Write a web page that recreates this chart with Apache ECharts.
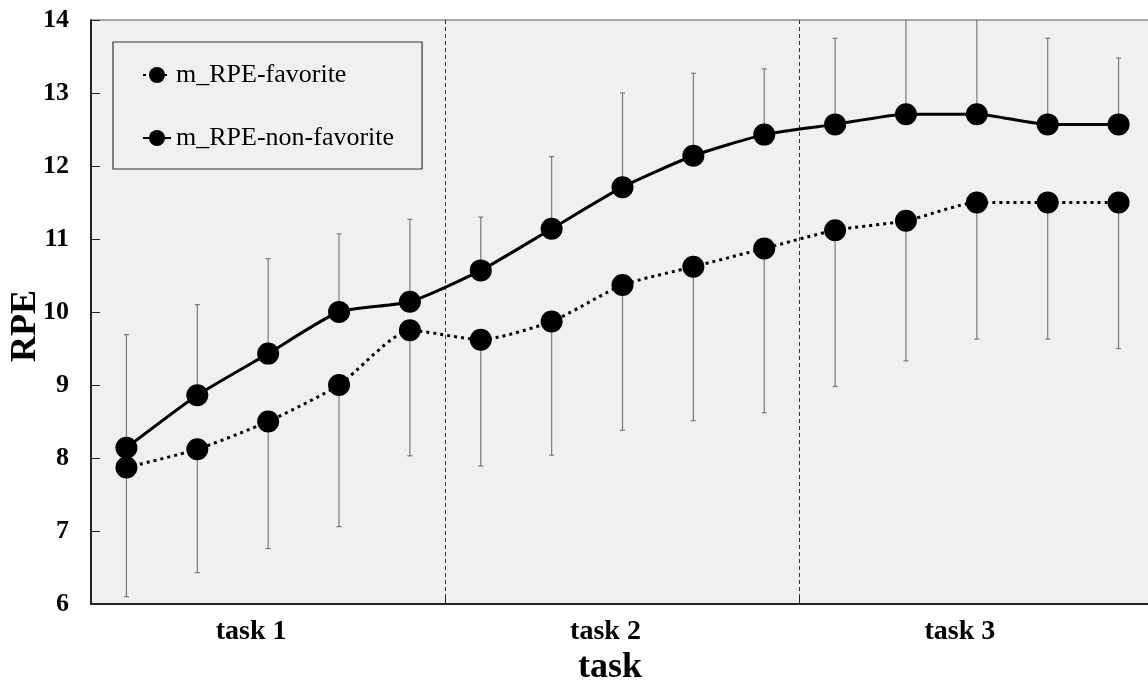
<!DOCTYPE html>
<html>
<head>
<meta charset="utf-8">
<script src="https://cdn.jsdelivr.net/npm/echarts@6/dist/echarts.min.js"></script>
<style>
  html, body { margin: 0; padding: 0; background: #ffffff; }
  #chart { width: 1148px; height: 686px; }
</style>
</head>
<body>
<div id="chart"></div>
<script>
// Task groups on the x axis (5 measurements per task)
const taskLabels = ['task 1', 'task 2', 'task 3'];
const pointsPerTask = 5;

// Mean RPE per measurement
const rpeFavorite    = [7.87, 8.12, 8.50, 9.00, 9.75, 9.62, 9.87, 10.37, 10.62, 10.87, 11.12, 11.25, 11.50, 11.50, 11.50];
const rpeNonFavorite = [8.14, 8.86, 9.43, 10.00, 10.14, 10.57, 11.14, 11.71, 12.14, 12.43, 12.57, 12.71, 12.71, 12.57, 12.57];

// Error bar ends: non-favorite bars extend upward, favorite bars extend downward
const nonFavoriteUpper = [9.69, 10.10, 10.73, 11.07, 11.27, 11.30, 12.13, 13.00, 13.27, 13.33, 13.75, 14.10, 14.10, 13.75, 13.48];
const favoriteLower    = [6.10, 6.43, 6.76, 7.06, 8.03, 7.89, 8.04, 8.38, 8.51, 8.62, 8.98, 9.33, 9.63, 9.63, 9.50];

// Y axis range
const yMin = 6, yMax = 14, yStep = 1;

const serif = "'Liberation Serif', 'Times New Roman', serif";
const nPoints = taskLabels.length * pointsPerTask;
const xPos = i => i + 0.5;

const favData = rpeFavorite.map((v, i) => [xPos(i), v]);
const nonFavData = rpeNonFavorite.map((v, i) => [xPos(i), v]);
const errData = [];
rpeNonFavorite.forEach((v, i) => errData.push([xPos(i), v, nonFavoriteUpper[i]]));
rpeFavorite.forEach((v, i) => errData.push([xPos(i), v, favoriteLower[i]]));

function renderErrorBar(params, api) {
  const x = api.value(0);
  const from = api.coord([x, api.value(1)]);
  const to = api.coord([x, api.value(2)]);
  const cap = 2.5;
  const style = { stroke: '#7a7a7a', lineWidth: 1.2 };
  return {
    type: 'group',
    children: [
      { type: 'line', shape: { x1: from[0], y1: from[1], x2: to[0], y2: to[1] }, style },
      { type: 'line', shape: { x1: to[0] - cap, y1: to[1], x2: to[0] + cap, y2: to[1] }, style }
    ]
  };
}

const chart = echarts.init(document.getElementById('chart'), null, { renderer: 'canvas' });
chart.setOption({
  animation: false,
  backgroundColor: '#ffffff',
  grid: {
    left: 91, top: 20, width: 1063, height: 584,
    outerBoundsMode: 'none',
    containLabel: false,
    show: true,
    backgroundColor: '#f0f0f0',
    borderColor: '#555555',
    borderWidth: 1
  },
  legend: {
    orient: 'vertical',
    left: 113, top: 42,
    padding: [20, 28, 18, 29],
    itemGap: 37,
    itemWidth: 28,
    itemHeight: 20,
    itemTextGap: 5,
    borderColor: '#333333',
    borderWidth: 1.2,
    textStyle: { fontFamily: serif, fontSize: 26, color: '#000000' },
    data: ['m_RPE-favorite', 'm_RPE-non-favorite']
  },
  xAxis: [
    {
      type: 'value', min: 0, max: nPoints, show: false
    },
    {
      type: 'category',
      data: taskLabels,
      boundaryGap: true,
      position: 'bottom',
      name: 'task',
      nameLocation: 'middle',
      nameGap: 46,
      nameMoveOverlap: false,
      nameTextStyle: { fontFamily: serif, fontSize: 36, fontWeight: 'bold', color: '#000000', padding: [0, 25, 0, 0] },
      axisLine: { show: true, lineStyle: { color: '#222222', width: 2 } },
      axisTick: { show: true, inside: true, length: 8, lineStyle: { color: '#222222', width: 1 } },
      axisLabel: { fontFamily: serif, fontSize: 28, fontWeight: 'bold', color: '#000000', margin: 14, padding: [0, 34, 0, 0] },
      splitLine: { show: true, lineStyle: { color: '#333333', width: 1, type: [4, 3] } }
    }
  ],
  yAxis: {
    type: 'value',
    min: yMin, max: yMax, interval: yStep,
    name: 'RPE',
    nameLocation: 'middle',
    nameGap: 47,
    nameMoveOverlap: false,
    nameTextStyle: { fontFamily: serif, fontSize: 36, fontWeight: 'bold', color: '#000000', padding: [0, 0, 0, -28] },
    axisLine: { show: true, lineStyle: { color: '#222222', width: 2 } },
    axisTick: { show: true, inside: true, length: 9, lineStyle: { color: '#222222', width: 1 } },
    axisLabel: { fontFamily: serif, fontSize: 26, fontWeight: 'bold', color: '#000000', margin: 22 },
    splitLine: { show: false }
  },
  series: [
    {
      type: 'custom',
      name: 'error',
      xAxisIndex: 0,
      renderItem: renderErrorBar,
      encode: { x: 0, y: [1, 2] },
      data: errData,
      clip: true,
      z: 1
    },
    {
      type: 'line',
      name: 'm_RPE-favorite',
      xAxisIndex: 0,
      data: favData,
      smooth: 0.2,
      symbol: 'circle',
      symbolSize: 22,
      itemStyle: { color: '#000000' },
      lineStyle: { color: '#000000', width: 3, type: [3, 4] },
      z: 3
    },
    {
      type: 'line',
      name: 'm_RPE-non-favorite',
      xAxisIndex: 0,
      data: nonFavData,
      smooth: 0.2,
      symbol: 'circle',
      symbolSize: 22,
      itemStyle: { color: '#000000' },
      lineStyle: { color: '#000000', width: 3 },
      z: 4
    }
  ]
});
</script>
</body>
</html>
